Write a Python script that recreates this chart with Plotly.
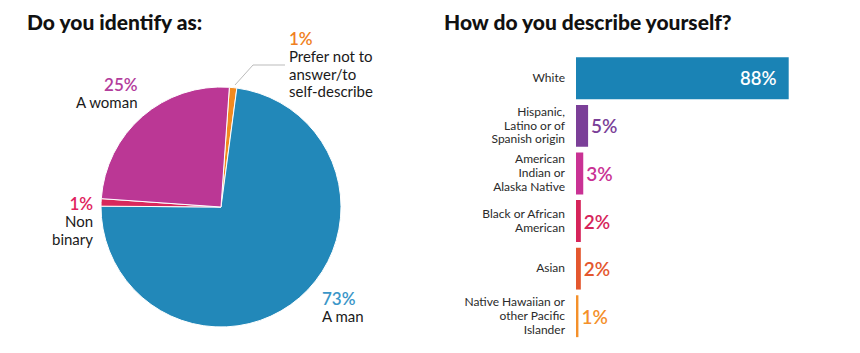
import plotly.graph_objects as go

# ---- data ----
gender_labels = ["Prefer not to<br>answer/to<br>self-describe", "A man", "Non<br>binary", "A woman"]
gender_values = [1, 73, 1, 25]
gender_colors = ["#f28a1f", "#2288b9", "#d9285b", "#bb3795"]
gender_text_colors = ["#f07f22", "#3a96c8", "#e0245e", "#b33d9c"]

race_labels = ["White", "Hispanic,<br>Latino or of<br>Spanish origin", "American<br>Indian or<br>Alaska Native",
               "Black or African<br>American", "Asian", "Native Hawaiian or<br>other Pacific<br>Islander"]
race_values = [88, 5, 3, 2, 2, 1]
race_colors = ["#1a83b5", "#7b3f98", "#c93294", "#d6245a", "#e4572e", "#f4902a"]
race_text_colors = ["#ffffff", "#7b3f98", "#c93294", "#d6245a", "#e4572e", "#f4902a"]

W, H = 860, 353
FONT = "Lato"

fig = go.Figure()

# pie
cx, cy, r = 221, 207, 120
fig.add_trace(go.Pie(
    labels=gender_labels, values=gender_values, sort=False, direction="clockwise", rotation=4,
    marker=dict(colors=gender_colors, line=dict(color="white", width=1)),
    textinfo="none", hoverinfo="label+percent", showlegend=False,
    domain=dict(x=[(cx - r) / W, (cx + r) / W], y=[(H - cy - r) / H, (H - cy + r) / H]),
))

# bars
x0 = 576
px_per = 2.417
fig.add_trace(go.Bar(
    x=race_values, y=race_labels, orientation="h",
    marker=dict(color=race_colors, line=dict(width=0)),
    text=[f"{v}%" for v in race_values],
    texttemplate=["%{text}  "] + ["%{text}"] * 5,
    textposition=["inside"] + ["outside"] * 5,
    insidetextanchor="end",
    textfont=dict(family=FONT, size=[18.5] + [19] * 5, color=race_text_colors, weight=600),
    constraintext="none", cliponaxis=False, showlegend=False,
    xaxis="x", yaxis="y",
))

tick_text = ["<br>".join(f"<span style='font-size:12px'>{ln}</span>" for ln in lab.split("<br>"))
             for lab in race_labels]

top_px, bot_px = 54.5, 340
fig.update_layout(
    width=W, height=H, margin=dict(l=0, r=0, t=0, b=0),
    paper_bgcolor="white", plot_bgcolor="white",
    bargap=0.12,
    xaxis=dict(domain=[x0 / W, (x0 + 100 * px_per) / W], range=[0, 100], visible=False, fixedrange=True),
    yaxis=dict(domain=[(H - bot_px) / H, (H - top_px) / H], autorange="reversed",
               tickmode="array", tickvals=race_labels, ticktext=tick_text,
               showline=False, showgrid=False, zeroline=False, ticks="", ticklabelstandoff=10,
               tickfont=dict(family=FONT, size=10.5, color="#2a2a2a")),
    font=dict(family=FONT),
)

ann = []
def title(x, y, text):
    ann.append(dict(x=x / W, y=1 - y / H, xref="paper", yref="paper", text=text, showarrow=False,
                    xanchor="left", yanchor="middle",
                    font=dict(family=FONT, size=21, color="#111111", weight=900)))

def pie_label(i, x, y, xanchor):
    pct = f"{gender_values[i]}%"
    lines = gender_labels[i].split("<br>")
    body = "<br>".join(f"<span style='font-size:15px'>{ln}</span>" for ln in lines)
    text = (f"<span style='font-size:17px;font-weight:600;color:{gender_text_colors[i]}'>{pct}</span><br>"
            + body)
    ann.append(dict(x=x / W, y=1 - y / H, xref="paper", yref="paper", text=text, showarrow=False,
                    xanchor=xanchor, yanchor="middle", align=xanchor,
                    font=dict(family=FONT, size=13.3, color="#1a1a1a")))

title(25, 22, "Do you identify as:")
title(442, 22, "How do you describe yourself?")

pie_label(0, 287, 64.5, "left")
pie_label(1, 320, 306.5, "left")
pie_label(2, 95, 221, "right")
pie_label(3, 140, 92.5, "right")

fig.update_layout(annotations=ann)

# leader line for small slice
fig.add_shape(type="path", xref="paper", yref="paper",
              path=f"M {235/W} {1-85/H} L {253/W} {1-65/H} L {285/W} {1-65/H}",
              line=dict(color="#aaaaaa", width=0.8))

fig.write_html("out.html")
